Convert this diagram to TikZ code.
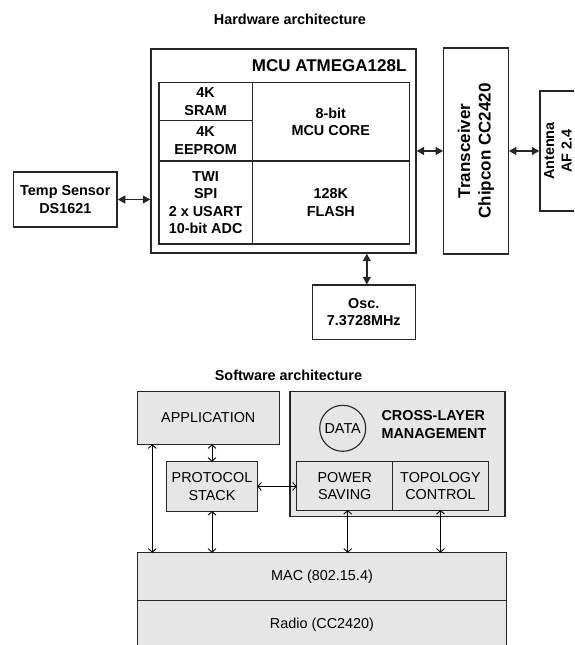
\documentclass[tikz,border=0pt]{standalone}
\usepackage{fontspec}
\setmainfont{Liberation Sans}
\usetikzlibrary{arrows.meta,positioning,calc}
\definecolor{swgray}{HTML}{E6E6E6}
\definecolor{linegray}{HTML}{262626}

\begin{document}
\begin{tikzpicture}[
    x=1pt, y=-1pt,
    font=\fontsize{14.4}{17.5}\selectfont,
    hwbox/.style={draw=linegray, line width=1.4pt, align=center, inner sep=0pt, font=\bfseries\fontsize{14.4}{17.5}\selectfont},
    cell/.style={hwbox, line width=1.2pt, outer sep=0pt},
    big/.style={font=\bfseries\fontsize{17}{20.5}\selectfont},
    title/.style={font=\bfseries\fontsize{14.4}{17.5}\selectfont},
    swbox/.style={draw=linegray, line width=1.1pt, fill=swgray, align=center, inner sep=0pt, outer sep=0pt},
    hwarrow/.style={{Triangle[length=7.5pt,width=8pt]}-{Triangle[length=7.5pt,width=8pt]}, line width=1.4pt, draw=linegray, fill=linegray},
    swarrow/.style={{Straight Barb[length=3.5pt,width=8pt]}-{Straight Barb[length=3.5pt,width=8pt]}, line width=0.9pt}
]
\path[use as bounding box, clip] (0,0) rectangle (574,645);

\node[title] (hwtitle) at (290,19) {Hardware architecture};
\node[hwbox, minimum width=265pt, minimum height=204pt] (mcu) at (283.5,151) {};
\node[big, anchor=east] (mcuname) at (410,66) {MCU ATMEGA128L};
\node[cell, minimum width=93.3pt, minimum height=38.4pt, anchor=north west] (sram) at (159,82.3) {4K\\SRAM};
\node[cell, minimum width=93.3pt, minimum height=40.3pt, below=0pt of sram] (eeprom) {4K\\EEPROM};
\node[cell, minimum width=93.3pt, minimum height=83pt, below=0pt of eeprom] (ports) {TWI\\SPI\\2 x USART\\10-bit ADC};
\node[cell, minimum width=157pt, minimum height=78.7pt, anchor=north west] (core) at (sram.north east) {8-bit\\MCU CORE};
\node[cell, minimum width=157pt, minimum height=83pt, below=0pt of core] (flash) {128K\\FLASH};
\node[hwbox, minimum width=103.5pt, minimum height=55pt] (temp) at (65.3,199.5) {Temp Sensor\\DS1621};
\node[hwbox, big, rotate=90, minimum width=206pt, minimum height=64.5pt] (trx) at (476,151) {Transceiver\\Chipcon CC2420};
\node[hwbox, rotate=90, minimum width=120pt, minimum height=36pt] (ant) at (558,151) {Antenna\\AF 2.4};
\node[hwbox, minimum width=103pt, minimum height=54.3pt] (osc) at (363.8,312.2) {Osc.\\7.3728MHz};

\draw[hwarrow] (temp.east) -- (temp.east -| mcu.west);
\draw[hwarrow] (mcu.east) -- (trx.north);
\draw[hwarrow] (trx.south) -- (ant.north);
\draw[hwarrow] ([xshift=3pt]osc.north) -- ([xshift=3pt]osc.north |- mcu.south);

\node[title] (swtitle) at (288.5,375) {Software architecture};
\node[swbox, minimum width=142pt, minimum height=52.6pt] (app) at (208.3,418) {APPLICATION};
\node[swbox, minimum width=215pt, minimum height=125pt] (xlayer) at (397.5,454.2) {};
\node[circle, draw=linegray, line width=1.1pt, minimum size=46pt, inner sep=0pt] (data) at (342.7,428.3) {DATA};
\node[title, anchor=west, align=left] (xlname) at (378,424.7) {CROSS-LAYER\\MANAGEMENT};
\node[swbox, minimum width=96pt, minimum height=48.3pt] (power) at (344.7,485.9) {POWER\\SAVING};
\node[swbox, minimum width=95.6pt, minimum height=48.3pt, right=0pt of power] (topo) {TOPOLOGY\\CONTROL};
\node[swbox, minimum width=90.6pt, minimum height=49.3pt] (proto) at (212,486.4) {PROTOCOL\\STACK};
\node[swbox, minimum width=369.4pt, minimum height=48pt] (mac) at (322,576.7) {MAC (802.15.4)};
\node[swbox, minimum width=369.4pt, minimum height=48pt, below=0pt of mac] (radio) {Radio (CC2420)};

\draw[swarrow] ([xshift=15pt]app.south west) -- ([xshift=15pt]app.south west |- mac.north);
\foreach \a/\b in {proto.north/app.south, proto.south/mac.north, topo.south/mac.north}
  \draw[swarrow] (\a) -- (\a |- \b);
\draw[swarrow] (proto.east) -- (proto.east -| power.west);
\draw[swarrow] ([xshift=3pt]power.south) -- ([xshift=3pt]power.south |- mac.north);
\end{tikzpicture}
\end{document}
